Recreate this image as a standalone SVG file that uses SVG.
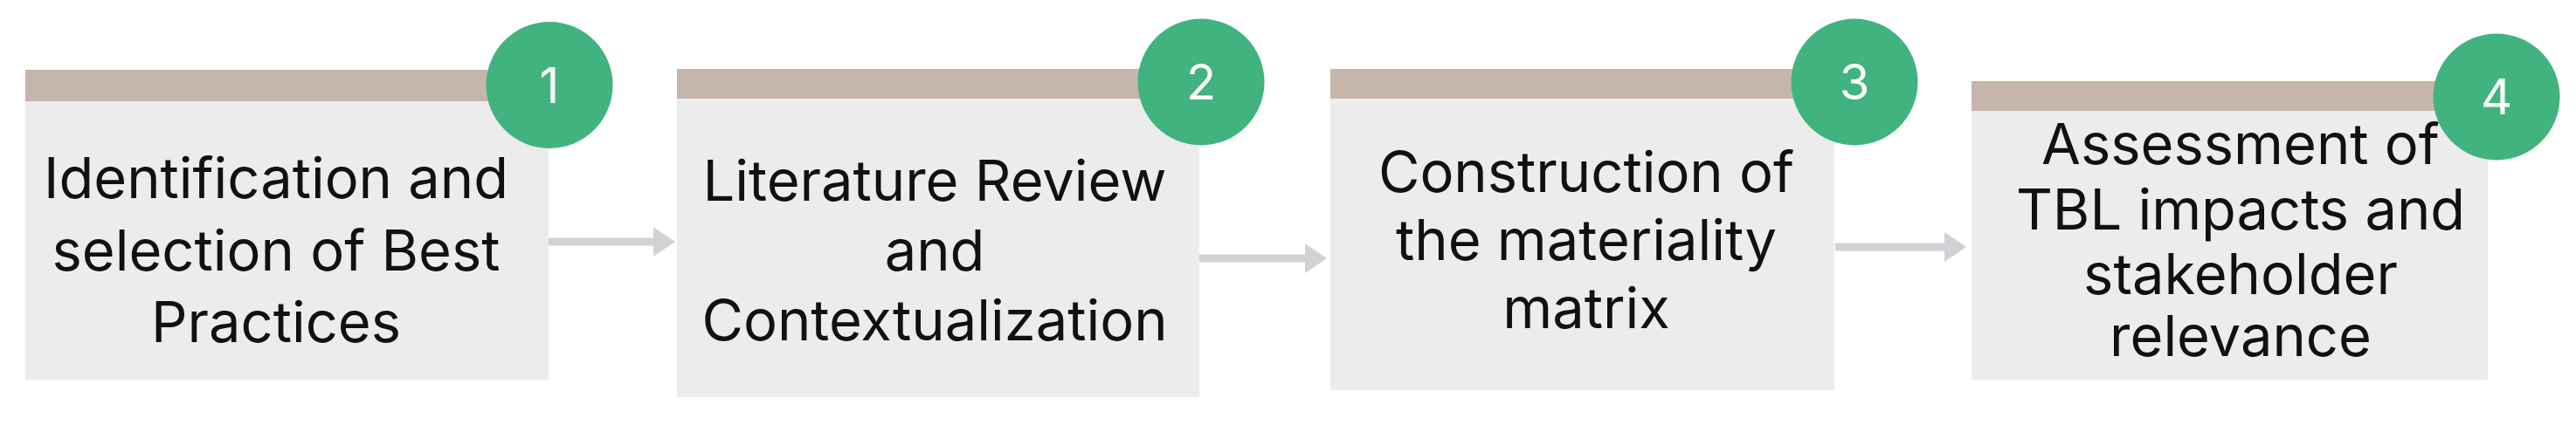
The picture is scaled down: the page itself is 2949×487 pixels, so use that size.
<svg xmlns="http://www.w3.org/2000/svg" width="2949" height="487" viewBox="0 0 2949 487">
<defs>
<style>
.body{fill:#ececec}
.bar{fill:#c6b5ab}
.badge{fill:#41b37f}
.num{font-family:Inter,"Liberation Sans",sans-serif;font-size:56px;fill:#ffffff;text-anchor:middle}
.lbl{font-family:Inter,"Liberation Sans",sans-serif;font-size:65px;fill:#111111;text-anchor:middle}
.conn{stroke:#d2d2d6;stroke-width:9;fill:none}
</style>
<marker id="ah" markerUnits="userSpaceOnUse" markerWidth="26" markerHeight="34" refX="0" refY="17" orient="auto">
<path d="M0,0 L25,17 L0,34 Z" fill="#d2d2d6"/>
</marker>
</defs>
<rect width="2949" height="487" fill="#ffffff"/>
<g id="connectors">
<line class="conn" x1="625" y1="277" x2="748" y2="277" marker-end="url(#ah)"/>
<line class="conn" x1="1373" y1="296" x2="1494" y2="296" marker-end="url(#ah)"/>
<line class="conn" x1="2101" y1="283" x2="2226" y2="283" marker-end="url(#ah)"/>
</g>
<g id="node1">
<rect class="body" x="29" y="80" width="599" height="355"/>
<rect class="bar" x="29" y="80" width="599" height="36"/>
<circle class="badge" cx="629" cy="97.5" r="72.5"/>
<text class="num" x="629" y="117.5">1</text>
<text class="lbl" x="316" y="227">Identification and</text>
<text class="lbl" x="316" y="310">selection of Best</text>
<text class="lbl" x="316" y="392">Practices</text>
</g>
<g id="node2">
<rect class="body" x="775" y="79" width="598" height="376"/>
<rect class="bar" x="775" y="79" width="598" height="34"/>
<circle class="badge" cx="1375" cy="94" r="72.5"/>
<text class="num" x="1375" y="114">2</text>
<text class="lbl" x="1070" y="230">Literature Review</text>
<text class="lbl" x="1070" y="310">and</text>
<text class="lbl" x="1070" y="390">Contextualization</text>
</g>
<g id="node3">
<rect class="body" x="1523" y="79" width="577" height="368"/>
<rect class="bar" x="1523" y="79" width="577" height="34"/>
<circle class="badge" cx="2123" cy="94" r="72.5"/>
<text class="num" x="2123" y="114">3</text>
<text class="lbl" x="1816" y="220">Construction of</text>
<text class="lbl" x="1816" y="298">the materiality</text>
<text class="lbl" x="1816" y="376">matrix</text>
</g>
<g id="node4">
<rect class="body" x="2257" y="93" width="591" height="342"/>
<rect class="bar" x="2257" y="93" width="591" height="34"/>
<circle class="badge" cx="2858" cy="111" r="72.5"/>
<text class="num" x="2858" y="131">4</text>
<text class="lbl" x="2565" y="188">Assessment of</text>
<text class="lbl" x="2565" y="263">TBL impacts and</text>
<text class="lbl" x="2565" y="337">stakeholder</text>
<text class="lbl" x="2565" y="408">relevance</text>
</g>
</svg>
